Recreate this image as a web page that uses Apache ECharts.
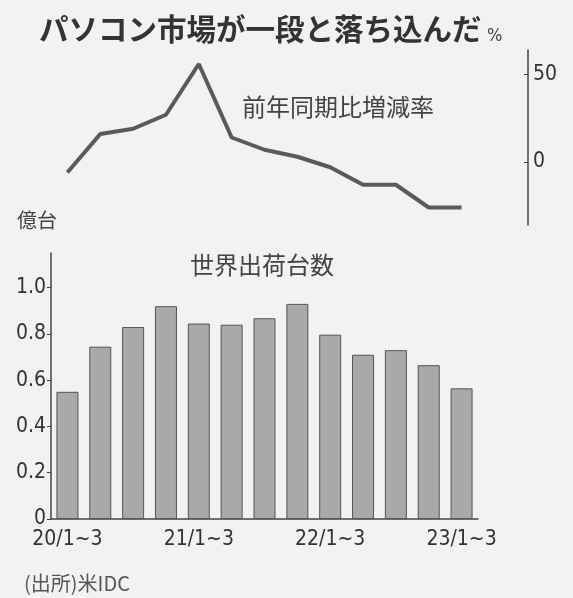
<!DOCTYPE html>
<html><head><meta charset="utf-8">
<script src="https://cdn.jsdelivr.net/npm/echarts@6/dist/echarts.min.js"></script>
<style>html,body{margin:0;padding:0;background:#f2f2f0;}#c{width:573px;height:598px;}</style>
</head><body><div id="c"></div>
<script>
const quarters = ['20/1~3','20/4~6','20/7~9','20/10~12','21/1~3','21/4~6','21/7~9','21/10~12','22/1~3','22/4~6','22/7~9','22/10~12','23/1~3'];
const shipments = [0.55, 0.745, 0.83, 0.92, 0.845, 0.84, 0.868, 0.93, 0.797, 0.71, 0.73, 0.665, 0.565];
const growthRate = [-6, 16, 19, 27, 56, 14, 7, 3, -3, -13, -13, -26, -26];
const leftTicks = [0, 0.2, 0.4, 0.6, 0.8, 1.0];
const rightTicks = [0, 50];

const numFont = "'Liberation Sans Narrow','DejaVu Sans Condensed','Noto Sans',sans-serif";
const cjk = "'Noto Sans CJK JP',sans-serif";
const chart = echarts.init(document.getElementById('c'), null, {renderer:'canvas'});
chart.setOption({
  backgroundColor: '#f2f2f0',
  animation: false,
  title: [
    {text:'パソコン市場が一段と落ち込んだ', left:39, top:14, padding:0, textStyle:{fontFamily:cjk, fontSize:29.5, fontWeight:'bold', color:'#333'}},
    {text:'%', left:487, top:27, padding:0, textStyle:{fontFamily:numFont, fontSize:18, fontWeight:'normal', color:'#444'}},
    {text:'前年同期比増減率', left:242, top:95, padding:0, textStyle:{fontFamily:cjk, fontSize:24, fontWeight:'normal', color:'#444'}},
    {text:'億台', left:17, top:210, padding:0, textStyle:{fontFamily:cjk, fontSize:20, fontWeight:'normal', color:'#444'}},
    {text:'世界出荷台数', left:190, top:253, padding:0, textStyle:{fontFamily:cjk, fontSize:24, fontWeight:'normal', color:'#444'}},
    {text:'(出所)米IDC', left:24, top:573, padding:0, textStyle:{fontFamily:cjk, fontSize:20, fontWeight:'normal', color:'#555'}}
  ],
  grid: [
    {left:51, right:95, top:50, height:175},
    {left:51, right:95, top:253, height:266}
  ],
  xAxis: [
    {gridIndex:0, type:'category', data:quarters, show:false, boundaryGap:true},
    {gridIndex:1, type:'category', data:quarters, boundaryGap:true,
      axisLine:{lineStyle:{color:'#444', width:1.5}}, axisTick:{show:false},
      axisLabel:{interval:3, margin:10, fontFamily:numFont, fontSize:21, color:'#333'}}
  ],
  yAxis: [
    {gridIndex:0, type:'value', position:'right', offset:50, min:-36, max:64,
      splitLine:{show:false},
      axisLine:{show:true, lineStyle:{color:'#444', width:1.5}},
      axisTick:{show:true, inside:true, length:4, customValues:rightTicks, lineStyle:{color:'#444'}},
      axisLabel:{customValues:rightTicks, margin:5, fontFamily:numFont, fontSize:21, color:'#333'}},
    {gridIndex:1, type:'value', min:0, max:1.15,
      splitLine:{show:false},
      axisLine:{show:true, lineStyle:{color:'#444', width:1.5}},
      axisTick:{show:true, length:4, customValues:leftTicks, lineStyle:{color:'#444'}},
      axisLabel:{customValues:leftTicks, margin:5, fontFamily:numFont, fontSize:21, color:'#333',
        formatter: v => v === 0 ? '0' : v.toFixed(1)}}
  ],
  series: [
    {type:'line', xAxisIndex:0, yAxisIndex:0, data:growthRate, symbol:'none',
      lineStyle:{color:'#5a5a5a', width:4}},
    {type:'bar', xAxisIndex:1, yAxisIndex:1, data:shipments, barWidth:22,
      itemStyle:{color:'#a9a9a9', borderColor:'#555', borderWidth:1}}
  ]
});
</script></body></html>
